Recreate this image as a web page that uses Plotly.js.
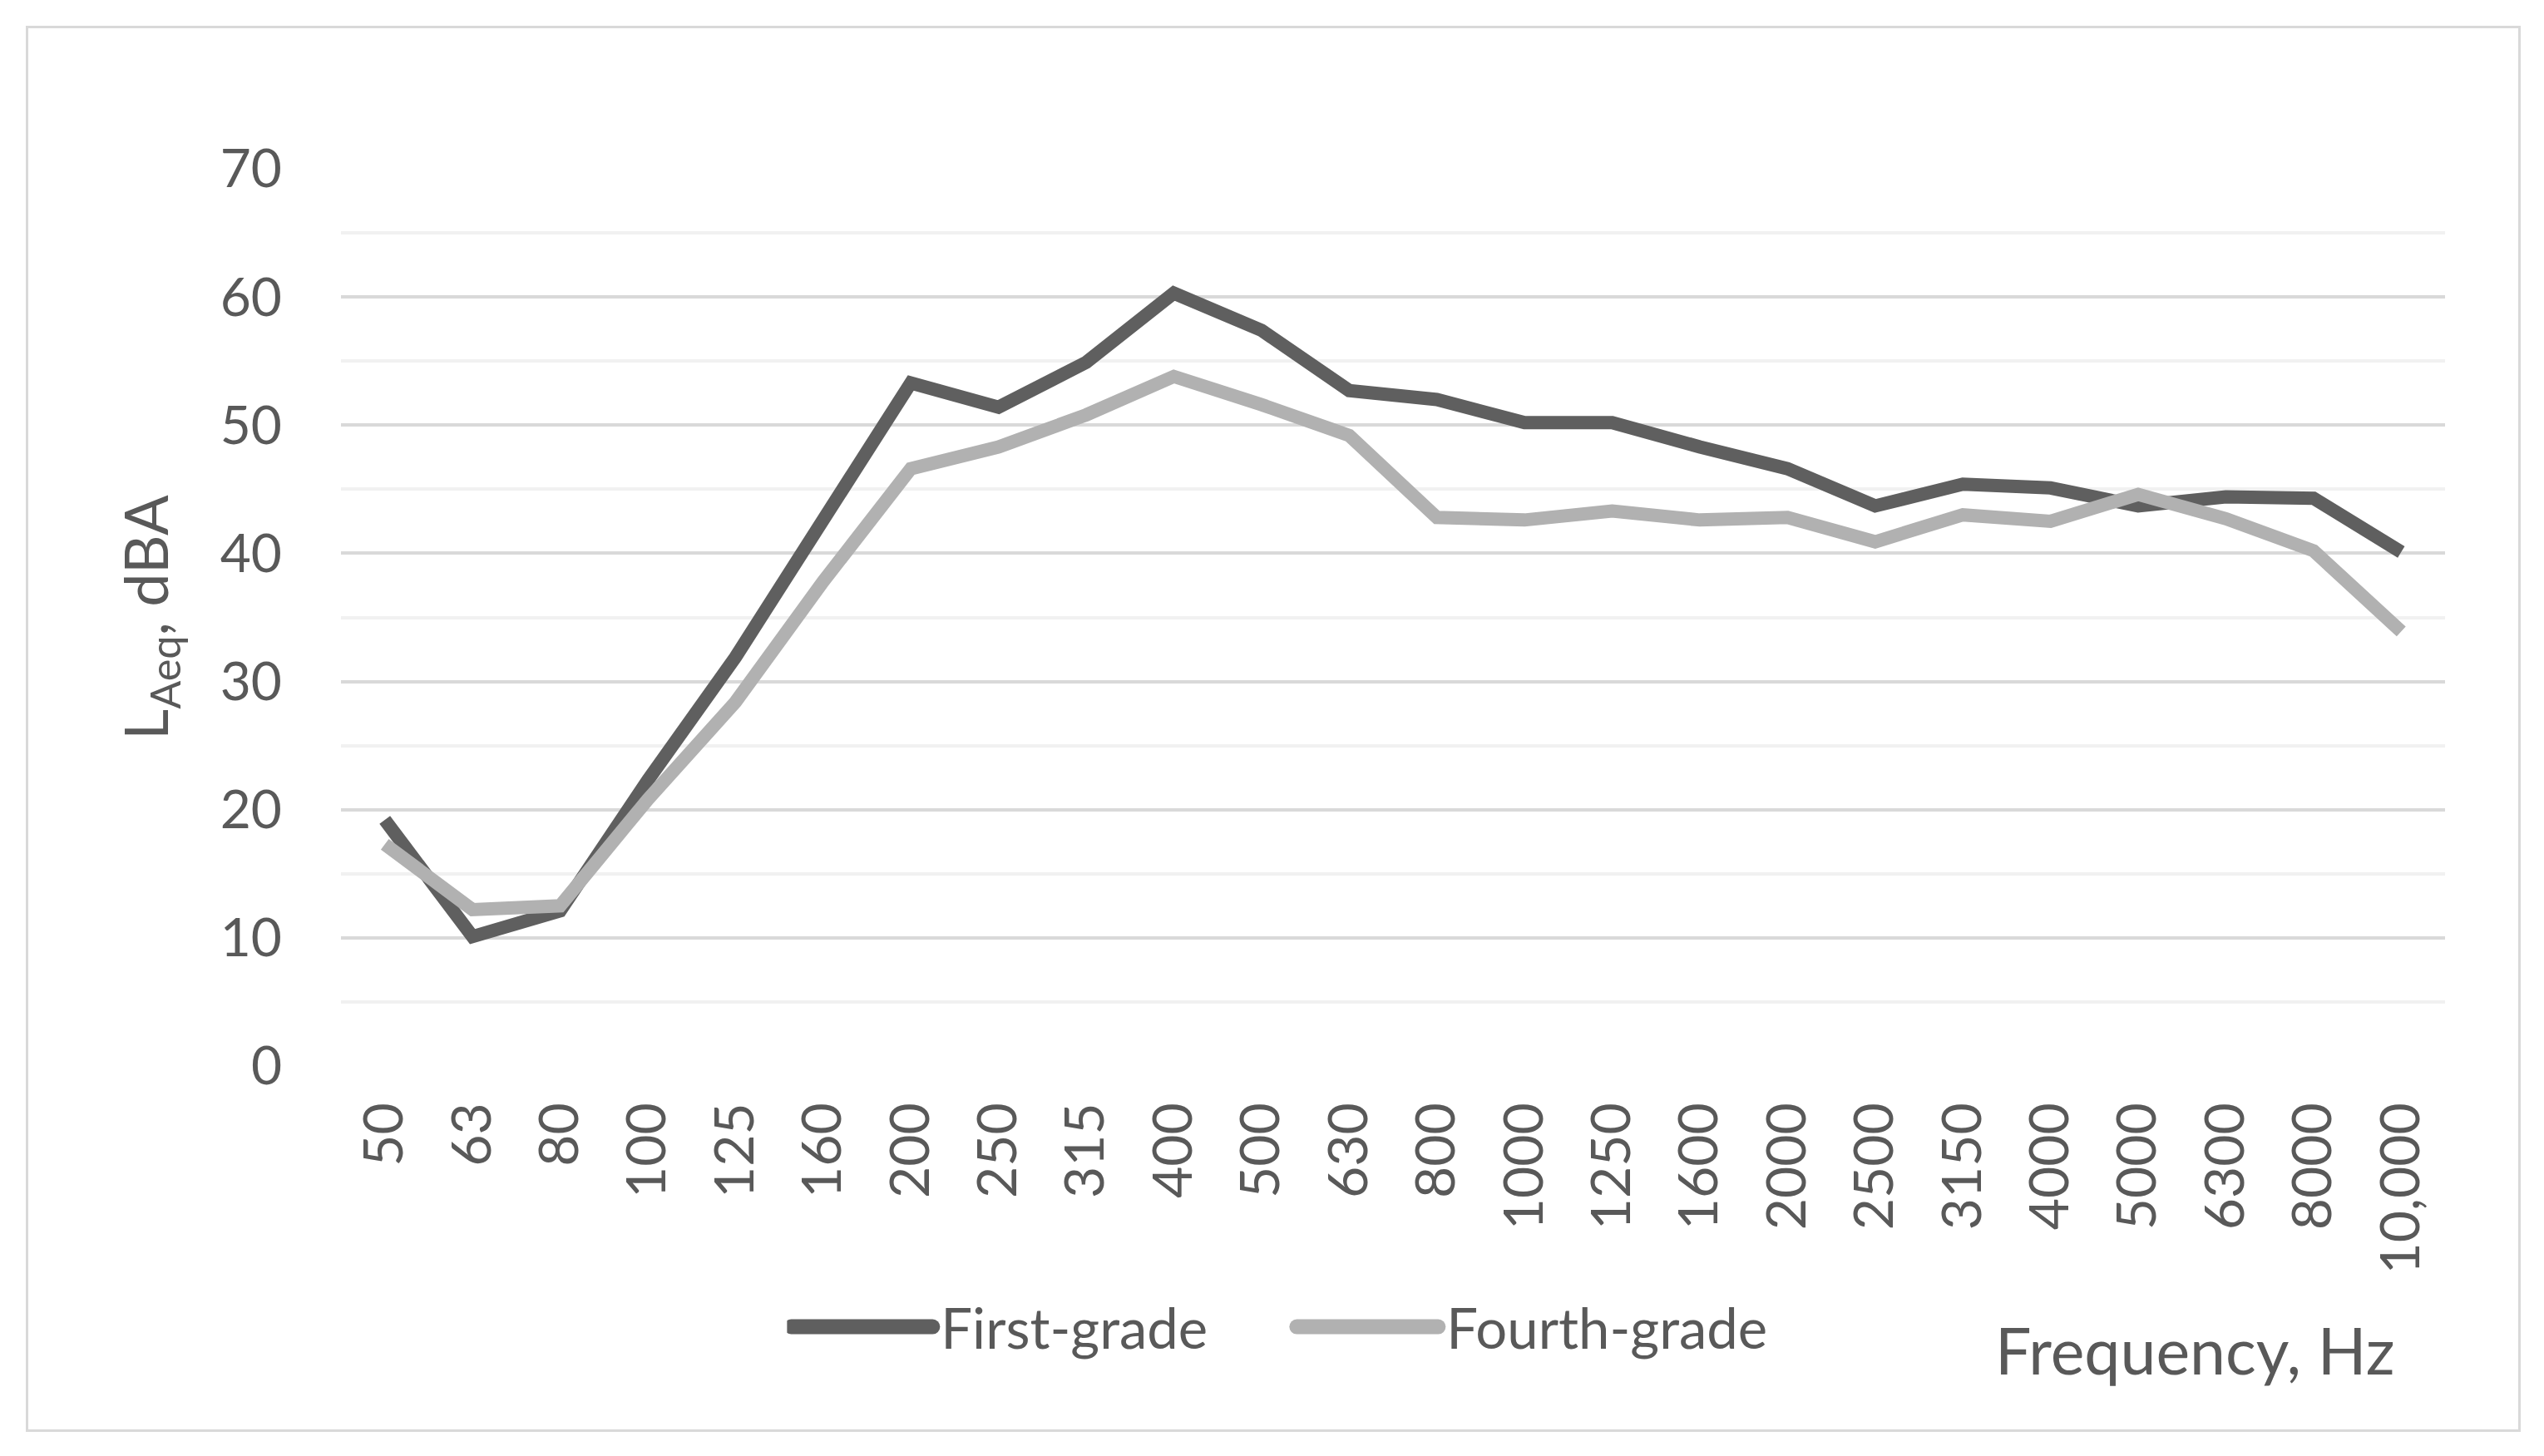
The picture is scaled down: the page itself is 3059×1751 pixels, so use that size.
<!DOCTYPE html>
<html>
<head>
<meta charset="utf-8">
<script src="https://cdn.plot.ly/plotly-3.0.1.min.js"></script>
<style>
  body { margin: 0; background: #fff; }
  #graf { position: absolute; left: 0; top: 0; width: 3059px; height: 1751px; }
  #frame { position: absolute; left: 31px; top: 31px; width: 2994px; height: 1685px; border: 3px solid #d9d9d9; pointer-events: none; }
</style>
</head>
<body>
<div id="graf"></div>
<div id="frame"></div>
<script>
// third-octave band centres, Hz
let freqs = ['50','63','80','100','125','160','200','250','315','400','500','630','800',
             '1000','1250','1600','2000','2500','3150','4000','5000','6300','8000','10,000'];

// LAeq, dBA
let firstGrade  = [19.2, 10.1, 12.1, 22.3, 31.9, 42.6, 53.3, 51.4, 54.9, 60.3, 57.4, 52.7,
                   52.0, 50.2, 50.2, 48.3, 46.6, 43.7, 45.4, 45.1, 43.7, 44.4, 44.3, 40.1];
let fourthGrade = [17.3, 12.2, 12.5, 20.8, 28.4, 37.8, 46.6, 48.3, 50.8, 53.8, 51.6, 49.2,
                   42.8, 42.6, 43.3, 42.6, 42.8, 40.9, 43.0, 42.5, 44.6, 42.7, 40.2, 33.9];

let font = 'Lato, "Open Sans", sans-serif';
let txt = '#595959';

trace1 = {
    x: freqs,
    y: firstGrade,
    type: 'scatter',
    mode: 'lines',
    line: { color: '#5f5f5f', width: 16 },
    name: 'First-grade'
};

trace2 = {
    x: freqs,
    y: fourthGrade,
    type: 'scatter',
    mode: 'lines',
    line: { color: '#b1b1b1', width: 16 },
    name: 'Fourth-grade'
};

let layout = {
    width: 3059,
    height: 1751,
    margin: { l: 410, r: 119, t: 203, b: 469 },
    paper_bgcolor: '#fff',
    plot_bgcolor: '#fff',
    font: { family: font, color: txt, size: 60 },
    showlegend: true,
    legend: {
        orientation: 'h',
        x: 0.212, xanchor: 'left',
        y: -0.291, yanchor: 'middle',
        font: { size: 67, color: txt },
        itemwidth: 175,
        entrywidth: 418
    },
    xaxis: {
        type: 'category',
        range: [-0.5, 23.5],
        tickangle: -90,
        ticks: '',
        ticklabelstandoff: 30,
        showgrid: false,
        showline: false,
        zeroline: false,
        tickfont: { size: 66, color: txt }
    },
    yaxis: {
        range: [0, 70],
        dtick: 10,
        ticks: '',
        ticklabelstandoff: 70,
        showline: false,
        zeroline: false,
        gridcolor: '#d9d9d9',
        gridwidth: 4,
        minor: { dtick: 5, showgrid: true, gridcolor: '#f1f1f1', gridwidth: 4 },
        tickfont: { size: 64, color: txt },
        title: {
            text: 'L<sub>Aeq</sub>, dBA',
            font: { size: 72, color: txt },
            standoff: 38
        }
    },
    annotations: [{
        xref: 'paper', yref: 'paper',
        x: 0.977, y: -0.316,
        xanchor: 'right', yanchor: 'middle',
        showarrow: false,
        text: 'Frequency, Hz',
        font: { size: 77, color: txt, family: font }
    }]
};

graf = document.getElementById('graf');
Plotly.newPlot(graf, [trace1, trace2], layout, { staticPlot: true }).then(function () {
    // plotly keeps legend swatches 30px long; stretch them like the original
    graf.querySelectorAll('.legendlines path').forEach(function (p) {
        p.setAttribute('d', 'M5,0h170');
        p.style.strokeWidth = '18px';
        p.style.strokeLinecap = 'round';
    });
});
</script>
</body>
</html>
